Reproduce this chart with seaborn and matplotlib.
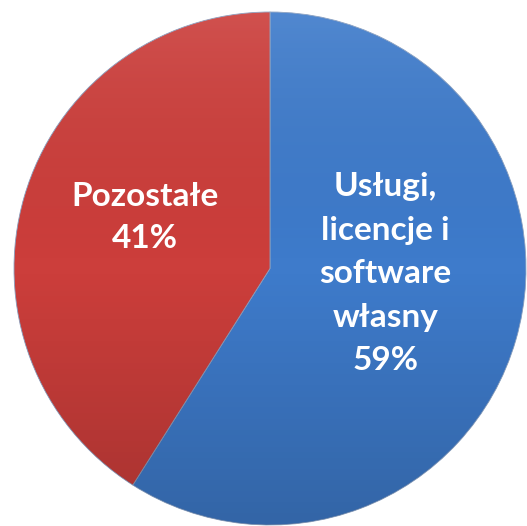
import numpy as np
import matplotlib
matplotlib.use("Agg")
import matplotlib.pyplot as plt
import seaborn as sns

categories = ["Usługi,\nlicencje i\nsoftware\nwłasny", "Pozostałe"]
values = [59, 41]
colors = ["#3E7BCB", "#CC3E3B"]

sns.set_style("white")
plt.rcParams['font.family'] = ['Lato', 'DejaVu Sans']

fig = plt.figure(figsize=(5.27, 5.26), dpi=100)
ax = fig.add_axes([14/527, 1/526, 512/527, 513/526])
wedges, _ = ax.pie(values, colors=colors, startangle=90, counterclock=False,
                   wedgeprops=dict(edgecolor="#8AA0C0", linewidth=0.6))
ax.set_aspect("equal")
ax.set_xlim(-1.0, 1.0)
ax.set_ylim(-1.0, 1.0)

# vertical shading gradient (lighter top, darker bottom), clipped to each wedge
grad = np.linspace(0, 1, 256).reshape(-1, 1)
for w in wedges:
    im = ax.imshow(grad, extent=(-1, 1, -1, 1), origin="upper",
                   cmap=matplotlib.colors.LinearSegmentedColormap.from_list(
                       "g", [(1, 1, 1, 0.10), (0, 0, 0, 0.0), (0, 0, 0, 0.18)]),
                   aspect="auto", zorder=2)
    im.set_clip_path(w)

labels_pos = [(0.45, -0.02), (-0.49, 0.20)]
spacings = [1.6, 1.55]
for lab, v, (x, y), ls in zip(categories, values, labels_pos, spacings):
    ax.text(x, y, f"{lab}\n{v}%", ha="center", va="center", color="white",
            fontsize=24, fontweight="bold", linespacing=ls, zorder=5)

ax.axis("off")
fig.savefig("out.png", dpi=100)
